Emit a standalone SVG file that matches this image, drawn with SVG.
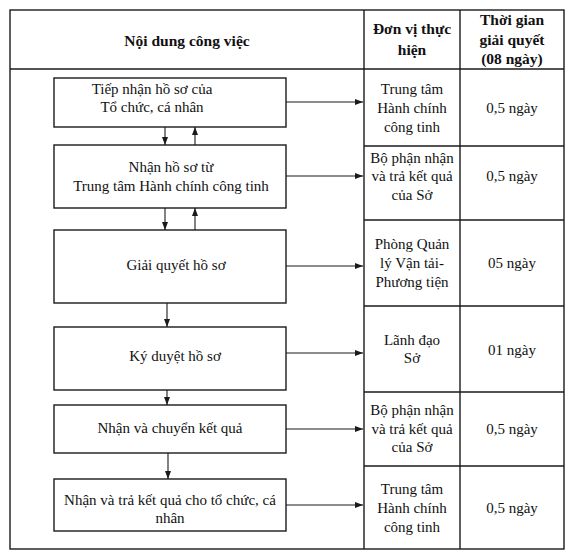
<svg xmlns="http://www.w3.org/2000/svg" width="576" height="558" viewBox="0 0 576 558">
<style>
.tbl{fill:none;stroke:#1a1a1a;stroke-width:1.4}
.box{fill:#fff;stroke:#1a1a1a;stroke-width:1.4}
.t{font-family:"Liberation Serif","Times New Roman",serif;font-size:15px;fill:#111;text-anchor:middle}
.h{font-family:"Liberation Serif","Times New Roman",serif;font-size:15.5px;font-weight:bold;fill:#111;text-anchor:middle}
.c{stroke:#1a1a1a;stroke-width:1.1;fill:none}
</style>
<defs>
<marker id="ah" viewBox="0 0 8 6" refX="8" refY="3" markerWidth="8" markerHeight="6" markerUnits="userSpaceOnUse" orient="auto">
<path d="M0,0 L8,3 L0,6 Z" fill="#1a1a1a"/>
</marker>
</defs>
<rect width="576" height="558" fill="#fff"/>
<g id="table">
<rect class="tbl" x="10" y="10" width="554" height="539"/>
<line class="tbl" x1="10" y1="69" x2="564" y2="69"/>
<line class="tbl" x1="364" y1="10" x2="364" y2="549"/>
<line class="tbl" x1="460" y1="10" x2="460" y2="549"/>
<line class="tbl" x1="364" y1="146" x2="564" y2="146"/>
<line class="tbl" x1="364" y1="220" x2="564" y2="220"/>
<line class="tbl" x1="364" y1="306" x2="564" y2="306"/>
<line class="tbl" x1="364" y1="392" x2="564" y2="392"/>
<line class="tbl" x1="364" y1="466" x2="564" y2="466"/>
<text class="h" x="187" y="46">Nội dung công việc</text>
<text class="h" x="412" y="34">Đơn vị thực</text>
<text class="h" x="412" y="55">hiện</text>
<text class="h" x="512" y="25">Thời gian</text>
<text class="h" x="512" y="45">giải quyết</text>
<text class="h" x="512" y="64">(08 ngày)</text>
</g>
<g id="units">
<text class="t" x="412" y="94">Trung tâm</text>
<text class="t" x="412" y="113">Hành chính</text>
<text class="t" x="412" y="132">công tinh</text>
<text class="t" x="512" y="113">0,5 ngày</text>
<text class="t" x="412" y="163">Bộ phận nhận</text>
<text class="t" x="412" y="181">và trả kết quả</text>
<text class="t" x="412" y="200">của Sở</text>
<text class="t" x="512" y="181">0,5 ngày</text>
<text class="t" x="412" y="249">Phòng Quản</text>
<text class="t" x="412" y="268">lý Vận tải-</text>
<text class="t" x="412" y="287">Phương tiện</text>
<text class="t" x="512" y="268">05 ngày</text>
<text class="t" x="412" y="345">Lãnh đạo</text>
<text class="t" x="412" y="363">Sở</text>
<text class="t" x="512" y="355">01 ngày</text>
<text class="t" x="412" y="415">Bộ phận nhận</text>
<text class="t" x="412" y="434">và trả kết quả</text>
<text class="t" x="412" y="452">của Sở</text>
<text class="t" x="512" y="434">0,5 ngày</text>
<text class="t" x="412" y="494">Trung tâm</text>
<text class="t" x="412" y="513">Hành chính</text>
<text class="t" x="412" y="532">công tinh</text>
<text class="t" x="512" y="513">0,5 ngày</text>
</g>
<g id="n1">
<rect class="box" x="54" y="78" width="232" height="49"/>
<text class="t" x="152" y="94">Tiếp nhận hồ sơ của</text>
<text class="t" x="152" y="112">Tổ chức, cá nhân</text>
</g>
<g id="n2">
<rect class="box" x="54" y="145" width="232" height="63"/>
<text class="t" x="171" y="172">Nhận hồ sơ từ</text>
<text class="t" x="171" y="191">Trung tâm Hành chính công tinh</text>
</g>
<g id="n3">
<rect class="box" x="54" y="230" width="232" height="73"/>
<text class="t" x="176" y="270">Giải quyết hồ sơ</text>
</g>
<g id="n4">
<rect class="box" x="54" y="327" width="232" height="63"/>
<text class="t" x="175" y="361">Ký duyệt hồ sơ</text>
</g>
<g id="n5">
<rect class="box" x="54" y="405" width="232" height="48"/>
<text class="t" x="170" y="433">Nhận và chuyển kết quả</text>
</g>
<g id="n6">
<rect class="box" x="54" y="479" width="232" height="52"/>
<text class="t" x="170" y="505">Nhận và trả kết quả cho tổ chức, cá</text>
<text class="t" x="170" y="523">nhân</text>
</g>
<g id="connectors">
<line class="c" x1="165" y1="127" x2="165" y2="145" marker-end="url(#ah)"/>
<line class="c" x1="195" y1="145" x2="195" y2="127" marker-end="url(#ah)"/>
<line class="c" x1="165" y1="208" x2="165" y2="230" marker-end="url(#ah)"/>
<line class="c" x1="195" y1="230" x2="195" y2="208" marker-end="url(#ah)"/>
<line class="c" x1="167" y1="303" x2="167" y2="327" marker-end="url(#ah)"/>
<line class="c" x1="167" y1="390" x2="167" y2="405" marker-end="url(#ah)"/>
<line class="c" x1="168" y1="453" x2="168" y2="479" marker-end="url(#ah)"/>
<line class="c" x1="286" y1="102" x2="363" y2="102" marker-end="url(#ah)"/>
<line class="c" x1="286" y1="176" x2="363" y2="176" marker-end="url(#ah)"/>
<line class="c" x1="286" y1="266" x2="363" y2="266" marker-end="url(#ah)"/>
<line class="c" x1="286" y1="353" x2="363" y2="353" marker-end="url(#ah)"/>
<line class="c" x1="286" y1="429" x2="363" y2="429" marker-end="url(#ah)"/>
<line class="c" x1="286" y1="505" x2="363" y2="505" marker-end="url(#ah)"/>
</g>
</svg>
